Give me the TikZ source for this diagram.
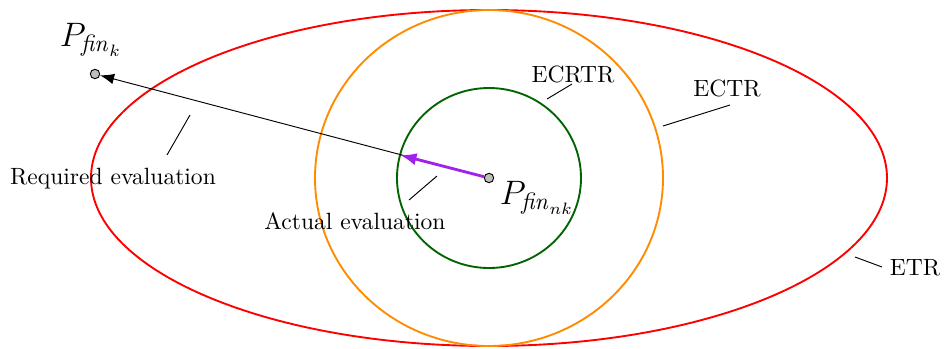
\documentclass[tikz,border=0pt]{standalone}
\usepackage{amsfonts,amssymb,amsmath}
\usepackage{xcolor}
\usetikzlibrary{arrows.meta}
\definecolor{dorange}{RGB}{255,140,0}
\definecolor{dgreen}{RGB}{0,100,0}
\definecolor{vpurple}{RGB}{160,32,240}

\begin{document}
\begin{tikzpicture}[x=0.425pt,y=-0.425pt,
  region/.style={thick},
  lead/.style={thin},
  pt/.style={circle,draw,fill=gray!50,inner sep=0pt,minimum size=4pt}]
\useasboundingbox(0,0)rectangle(945,348);
\draw[region,red](489,178)ellipse[x radius=398,y radius=168];
\draw[region,dorange](489,178)ellipse[x radius=174,y radius=168];
\draw[region,dgreen](489,178)ellipse[x radius=92,y radius=90];
\node[pt](pk) at (95,74){};
\node[pt](pnk) at (489,178){};
\node(lk) at (91,40){\Large $P_{\mathit{fin}_k}$};
\node(lnk) at (537,198){\Large $P_{\mathit{fin}_{nk}}$};
\coordinate(hit) at (400,155);
\draw[-{Latex[length=6pt]}](pnk)--(pk);
\draw[-{Latex[length=7pt]},vpurple,very thick](pnk)--(hit);
\node(ecrtr) at (573,74){ECRTR};
\node(ectr) at (727,88){ECTR};
\node(etr) at (915,268){ETR};
\node(req) at (113,179){Required evaluation};
\node(act) at (355,221){Actual evaluation};
\coordinate(c1) at (547,99);
\coordinate(c2) at (663,126);
\coordinate(c3) at (855,257);
\coordinate(c4) at (190,115);
\coordinate(c5) at (437,176);
\draw[lead](c1)--(572,84)
(c2)--(730,105)
(c3)--(882,267)
(167,155)--(c4)
(409,200)--(c5);
\end{tikzpicture}
\end{document}
